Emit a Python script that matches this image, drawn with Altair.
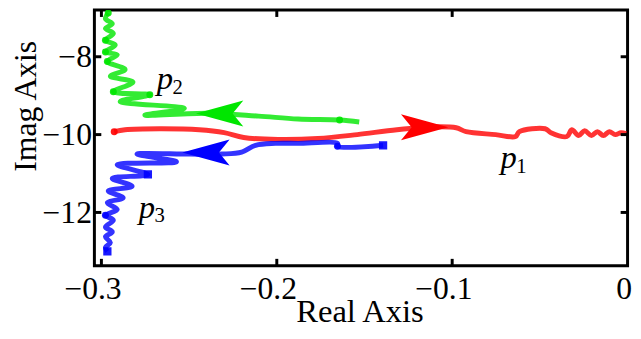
import altair as alt
import pandas as pd

# ---- data ----
red_x = [-0.2927, -0.2865, -0.2668, -0.2442, -0.2300, -0.2189, -0.1992, -0.1766, -0.1541, -0.1315,
         -0.1090, -0.0977, -0.0921, -0.0752, -0.0639, -0.0617, -0.0470, -0.0437, -0.0346,
         -0.0318, -0.0279, -0.0245, -0.0206, -0.0172, -0.0138, -0.0104, -0.0070, -0.0037, -0.0008]
red_y = [-9.925, -9.875, -9.850, -9.875, -9.950, -10.075, -10.125, -10.100, -10.000, -9.875,
         -9.800, -9.825, -9.925, -10.000, -10.050, -9.925, -9.850, -9.950, -10.050,
         -9.875, -10.025, -9.900, -10.025, -9.925, -10.025, -9.925, -10.000, -9.950, -9.975]

green_x = [-0.1530, -0.1642, -0.1879, -0.2104, -0.2386, -0.2752, -0.2527, -0.2893, -0.2724, -0.2932,
           -0.2820, -0.2949, -0.2865, -0.2966, -0.2910, -0.2977, -0.2921, -0.2977, -0.2932, -0.2977,
           -0.2938, -0.2977, -0.2961]
green_y = [-9.675, -9.625, -9.600, -9.525, -9.450, -9.500, -9.325, -9.150, -8.975, -8.900,
           -8.650, -8.500, -8.325, -8.125, -7.950, -7.875, -7.700, -7.575, -7.400, -7.275,
           -7.150, -7.025, -6.875]

blue_x = [-0.1394, -0.1654, -0.1654, -0.1879, -0.2008, -0.2121, -0.2200, -0.2313, -0.2499, -0.2797,
          -0.2572, -0.2910, -0.2735, -0.2938, -0.2825, -0.2961, -0.2876, -0.2966, -0.2910, -0.2977,
          -0.2932, -0.2977, -0.2938, -0.2977, -0.2949, -0.2977, -0.2966]
blue_y = [-10.275, -10.300, -10.225, -10.225, -10.225, -10.275, -10.450, -10.500, -10.500, -10.500,
          -10.700, -10.775, -11.025, -11.125, -11.325, -11.450, -11.625, -11.750, -11.925, -12.075,
          -12.200, -12.375, -12.500, -12.625, -12.775, -12.900, -13.000]

# markers on the curves
dot_series = ["p1", "p2", "p2", "p2", "p2", "p2", "p2", "p2", "p3", "p3"]
dot_x = [-0.2927, -0.1642, -0.2724, -0.2932, -0.2966, -0.2977, -0.2977, -0.2961, -0.1654, -0.2977]
dot_y = [-9.925, -9.625, -8.975, -8.900, -8.125, -7.875, -7.575, -6.875, -10.300, -12.075]
square_series = ["p3", "p3", "p3"]
square_x = [-0.1394, -0.2735, -0.2966]
square_y = [-10.275, -11.025, -13.000]

# direction arrows
arrow_right_series = ["p1"]
arrow_right_x = [-0.1157]
arrow_right_y = [-9.81]
arrow_left_series = ["p2", "p3"]
arrow_left_x = [-0.2326, -0.2404]
arrow_left_y = [-9.46, -10.46]

# curve labels
label_text = ["p", "p", "p"]
label_sub = ["1", "2", "3"]
label_x = [-0.0725, -0.2685, -0.2787]
label_y = [-10.86, -8.83, -12.13]

x_ticks = [-0.3, -0.2, -0.1, 0]
y_ticks = [-12, -10, -8]
x_domain = [-0.304, 0.0]
y_domain = [-13.37, -6.8]

series = ["p1", "p2", "p3"]
palette = ["#ff0000", "#00e600", "#0000ff"]

W, H = 540, 259
FONT = "Liberation Serif"

xs = alt.Scale(domain=x_domain, nice=False, zero=False)
ys = alt.Scale(domain=y_domain, nice=False, zero=False)
cs = alt.Scale(domain=series, range=palette)

x_axis = alt.Axis(values=x_ticks, format="~g", title="Real Axis", grid=False, domain=False,
                  ticks=False, tickSize=0, labelFont=FONT, labelFontSize=32, labelColor="black",
                  labelBaseline="alphabetic", labelPadding=33,
                  labelOffset={"condition": {"test": "datum.value < 0", "value": -9}, "value": -4},
                  labelFlush=False, labelOverlap=False,
                  titleFont=FONT, titleFontSize=33, titleFontWeight="normal", titleColor="black",
                  titleX=268.5, titleY=56, titleBaseline="alphabetic", titleAlign="center")
y_axis = alt.Axis(values=y_ticks, format="d", title="Imag Axis", grid=False, domain=False,
                  ticks=False, tickSize=0, labelFont=FONT, labelFontSize=32, labelColor="black",
                  labelPadding=3, labelFlush=False, labelOverlap=False,
                  titleFont=FONT, titleFontSize=32, titleFontWeight="normal", titleColor="black",
                  titleX=-60, titleY=97, titleAngle=270, titleBaseline="alphabetic",
                  titleAlign="center")


def X(with_axis=False):
    if with_axis:
        return alt.X("x:Q", scale=xs, axis=x_axis)
    return alt.X("x:Q", scale=xs)


def Y(with_axis=False):
    if with_axis:
        return alt.Y("y:Q", scale=ys, axis=y_axis)
    return alt.Y("y:Q", scale=ys)


def line_layer(xv, yv, s, with_axes=False):
    df = pd.DataFrame({"x": xv, "y": yv, "i": list(range(len(xv))), "s": s})
    return alt.Chart(df).mark_line(
        strokeWidth=5, opacity=0.8, interpolate="catmull-rom", clip=True
    ).encode(
        x=X(with_axes), y=Y(with_axes), order="i:Q",
        color=alt.Color("s:N", scale=cs, legend=None),
    )


red = line_layer(red_x, red_y, "p1", with_axes=True)
green = line_layer(green_x, green_y, "p2")
blue = line_layer(blue_x, blue_y, "p3")


def point_layer(sv, xv, yv, shape, size, opacity=0.9):
    df = pd.DataFrame({"s": sv, "x": xv, "y": yv})
    return alt.Chart(df).mark_point(filled=True, opacity=opacity, size=size, shape=shape,
                                    strokeWidth=0, clip=True).encode(
        x=X(), y=Y(), color=alt.Color("s:N", scale=cs, legend=None))


dots = point_layer(dot_series, dot_x, dot_y, "circle", 50)
squares = point_layer(square_series, square_x, square_y, "square", 70)
arrows_r = point_layer(arrow_right_series, arrow_right_x, arrow_right_y,
                       "M1,0 L-1,-0.55 L-0.55,0 L-1,0.55 Z", 2300, 1)
arrows_l = point_layer(arrow_left_series, arrow_left_x, arrow_left_y,
                       "M-1,0 L1,-0.55 L0.55,0 L1,0.55 Z", 2300, 1)

lb = pd.DataFrame({"t": label_text, "sub": label_sub, "x": label_x, "y": label_y})
lab_p = alt.Chart(lb).mark_text(font=FONT, fontSize=33, fontStyle="italic", align="left",
                                baseline="alphabetic", color="black").encode(
    x=X(), y=Y(), text="t:N")
lab_sub = alt.Chart(lb).mark_text(font=FONT, fontSize=21, align="left", baseline="alphabetic",
                                  color="black", dx=16, dy=5).encode(
    x=X(), y=Y(), text="sub:N")

# inward ticks (MATLAB style)
xt = pd.DataFrame({"x": x_ticks[:-1]})
yt = pd.DataFrame({"y": y_ticks})
tick_style = dict(color="black", strokeWidth=3)
xb = alt.Chart(xt).mark_rule(**tick_style).encode(x=X(), y=alt.value(H), y2=alt.value(H - 7))
xtp = alt.Chart(xt).mark_rule(**tick_style).encode(x=X(), y=alt.value(0), y2=alt.value(7))
yl = alt.Chart(yt).mark_rule(**tick_style).encode(y=Y(), x=alt.value(0), x2=alt.value(7))
yr = alt.Chart(yt).mark_rule(**tick_style).encode(y=Y(), x=alt.value(W), x2=alt.value(W - 7))

chart = alt.layer(red, green, blue, dots, squares, arrows_r, arrows_l, lab_p, lab_sub,
                  xb, xtp, yl, yr).properties(
    width=W, height=H,
    padding={"left": 87.5, "top": 0, "right": 5.5, "bottom": 64},
    autosize=alt.AutoSizeParams(type="none"),
    background="white",
).configure_view(stroke="black", strokeWidth=3)

chart.save("out.html", embed_options={"renderer": "svg", "actions": False})
